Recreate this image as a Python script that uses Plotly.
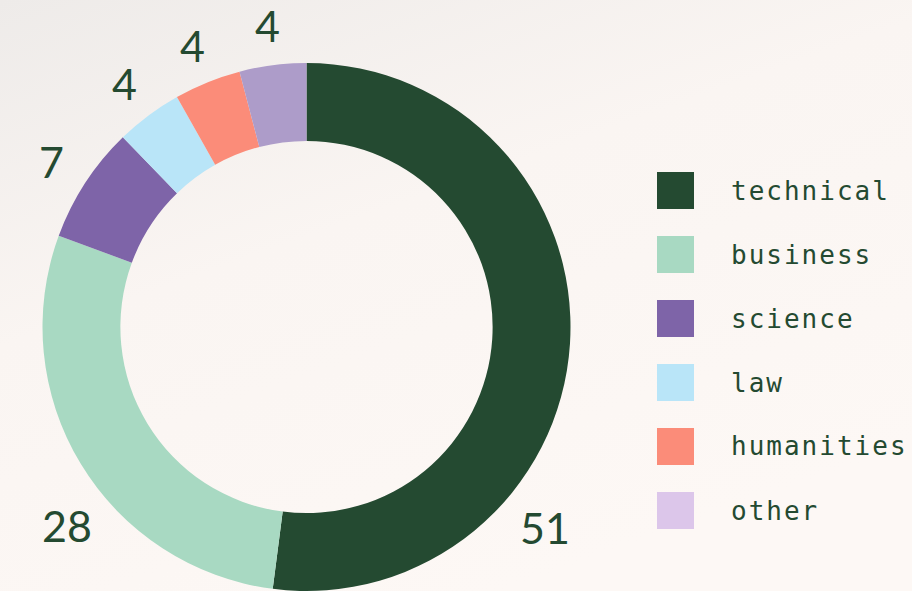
import base64, math
import plotly.graph_objects as go

categories = ["technical", "business", "science", "law", "humanities", "other"]
values = [51, 28, 7, 4, 4, 4]
slice_colors = ["#244A31", "#A8D9C2", "#7E64A8", "#B9E5F8", "#FB8C79", "#AD9CC9"]
legend_colors = ["#244A31", "#A8D9C2", "#7E64A8", "#B9E5F8", "#FB8C79", "#DCC6EA"]
# label direction overrides (degrees clockwise from 12 o'clock) for the big slices
label_angle_override = {"technical": 130, "business": 230.5}

W, H = 912, 591
text_color = "#244A31"

# pie geometry in pixels
cx, cy, R = 306.5, 327.5, 264.5
dom_x = [(cx - R) / W, (cx + R) / W]
dom_y = [0.0, 1 - (cy - R) / H]

fig = go.Figure(go.Pie(
    labels=categories, values=values, sort=False, direction="clockwise", rotation=0,
    hole=0.705, textinfo="none", hoverinfo="label+value",
    marker=dict(colors=slice_colors, line=dict(width=0)),
    domain=dict(x=dom_x, y=dom_y), showlegend=False,
))

# background gradient
svg = ('<svg xmlns="http://www.w3.org/2000/svg" width="912" height="591" preserveAspectRatio="none">'
       '<defs><linearGradient id="g" x1="0" y1="0" x2="0.55" y2="1">'
       '<stop offset="0" stop-color="#EEEBE9"/><stop offset="0.45" stop-color="#FAF5F2"/>'
       '<stop offset="1" stop-color="#FDF8F5"/></linearGradient></defs>'
       '<rect width="912" height="591" fill="url(#g)"/></svg>')
src = "data:image/svg+xml;base64," + base64.b64encode(svg.encode()).decode()

annotations, shapes = [], []
total = sum(values)
cum = 0
for cat, v in zip(categories, values):
    mid = (cum + v / 2) / total * 360
    cum += v
    ang = math.radians(label_angle_override.get(cat, mid))
    r = 311 if cat in label_angle_override else 304
    px = cx + r * math.sin(ang)
    py = cy - r * math.cos(ang)
    annotations.append(dict(x=px / W, y=1 - py / H, xref="paper", yref="paper",
                            text=str(v), showarrow=False, xanchor="center", yanchor="middle",
                            font=dict(family="Lato", size=43, color=text_color)))

# legend
lx0, lsize, ly0, lstep, tx = 657, 37, 172, 64, 729
for i, (cat, col) in enumerate(zip(categories, legend_colors)):
    y0 = ly0 + i * lstep
    shapes.append(dict(type="rect", xref="paper", yref="paper",
                       x0=lx0 / W, x1=(lx0 + lsize) / W,
                       y0=1 - (y0 + lsize) / H, y1=1 - y0 / H,
                       fillcolor=col, line=dict(width=0)))
    annotations.append(dict(x=tx / W, y=1 - (y0 + lsize / 2) / H, xref="paper", yref="paper",
                            text='<span style="letter-spacing:2px">' + cat + '</span>',
                            showarrow=False, xanchor="left", yanchor="middle",
                            font=dict(family="DejaVu Sans Mono", size=26, color=text_color)))

fig.update_layout(
    width=W, height=H, margin=dict(l=0, r=0, t=0, b=0),
    paper_bgcolor="#FCF7F4", plot_bgcolor="rgba(0,0,0,0)",
    images=[dict(source=src, xref="paper", yref="paper", x=0, y=1, sizex=1, sizey=1,
                 sizing="stretch", layer="below", xanchor="left", yanchor="top")],
    annotations=annotations, shapes=shapes, showlegend=False,
)
fig.write_html("out.html", config={"displayModeBar": False},
               post_script="document.body.style.margin='0';document.body.style.background='#FCF7F4';")
